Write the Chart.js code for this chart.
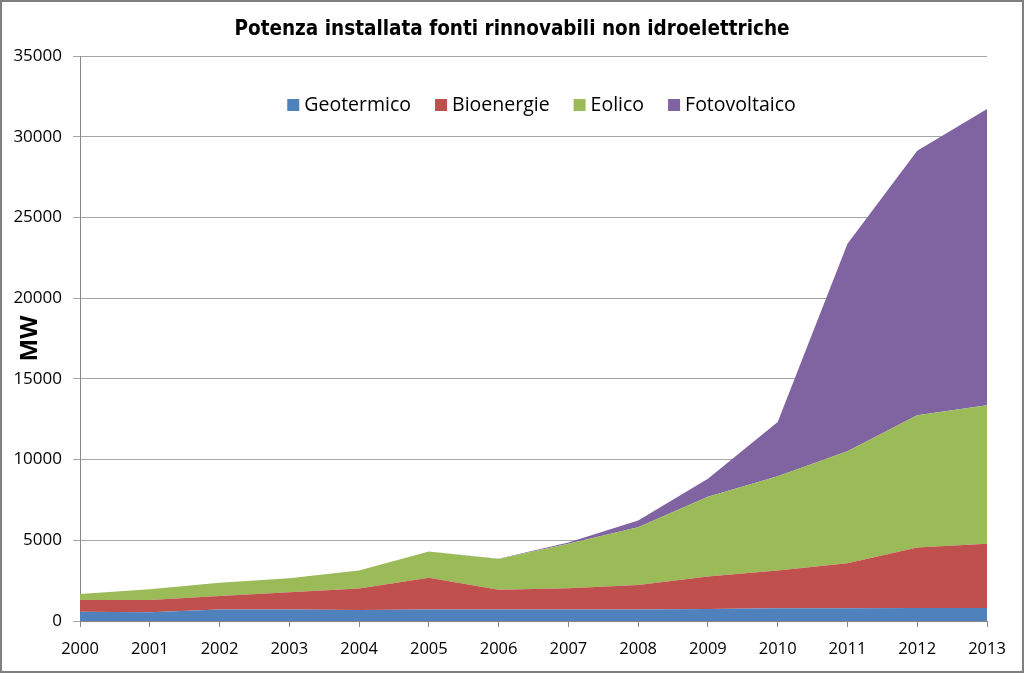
<!DOCTYPE html>
<html>
<head>
<meta charset="utf-8">
<script src="https://cdn.jsdelivr.net/npm/chart.js@4/dist/chart.umd.min.js"></script>
<style>
  html, body { margin: 0; padding: 0; background: #fff; }
  #wrap { width: 1024px; height: 673px; }
</style>
</head>
<body>
<div id="wrap"><canvas id="potenzaChart" width="1024" height="673"></canvas></div>
<script>
// years on the x axis
const years = ['2000', '2001', '2002', '2003', '2004', '2005', '2006',
               '2007', '2008', '2009', '2010', '2011', '2012', '2013'];

// installed power in MW
const geotermico   = [580, 540, 720, 720, 685, 720, 720, 720, 720, 750, 790, 790, 800, 800];
const bioenergie   = [725, 765, 830, 1055, 1325, 1965, 1220, 1305, 1510, 2005, 2335, 2795, 3755, 3985];
const eolico       = [375, 665, 825, 870, 1120, 1615, 1905, 2755, 3585, 4935, 5840, 6935, 8185, 8575];
const fotovoltaico = [0, 0, 0, 0, 0, 0, 5, 80, 410, 1120, 3360, 12845, 16390, 18355];

const yTicks = [0, 5000, 10000, 15000, 20000, 25000, 30000, 35000];

const chartTitle = 'Potenza installata fonti rinnovabili non idroelettriche';
const labelFont = "'Open Sans', 'Liberation Sans', sans-serif";
const titleFont = "'Liberation Sans Narrow', 'DejaVu Sans Condensed', sans-serif";

// grey frame and the title, centred on the whole picture
const framePlugin = {
    id: 'frame',
    afterDraw(chart) {
        const c = chart.ctx;
        c.save();
        c.strokeStyle = '#7f7f7f';
        c.lineWidth = 2;
        c.strokeRect(1, 1, chart.width - 2, chart.height - 2);
        c.fillStyle = '#000';
        c.font = 'bold 20.5px ' + titleFont;
        c.textAlign = 'center';
        c.textBaseline = 'middle';
        c.fillText(chartTitle, chart.width / 2, 30);
        c.restore();
    }
};

// legend in one row inside the plot, like the original
const rowLegend = {
    id: 'rowLegend',
    afterDatasetsDraw(chart) {
        const c = chart.ctx;
        const sets = chart.data.datasets;
        const box = 12, gap = 5, spacing = 24;
        c.save();
        c.font = '19.5px ' + labelFont;
        c.textBaseline = 'middle';
        let total = 0;
        const widths = sets.map(ds => c.measureText(ds.label).width);
        widths.forEach(w => { total += box + gap + w; });
        total += spacing * (sets.length - 1);
        const area = chart.chartArea;
        let x = (area.left + area.right) / 2 + 8 - total / 2;
        const y = 105;
        sets.forEach((ds, i) => {
            c.fillStyle = ds.backgroundColor;
            c.fillRect(x, y - 6, box, 12);
            x += box + gap;
            c.fillStyle = '#000';
            c.fillText(ds.label, x, y);
            x += widths[i] + spacing;
        });
        c.restore();
    }
};

const ctx = document.getElementById('potenzaChart').getContext('2d');
const potenzaChart = new Chart(ctx, {
    type: 'line',
    data: {
        labels: years,
        datasets: [{
            label: 'Geotermico',
            data: geotermico,
            backgroundColor: '#4F81BD',
            borderWidth: 0,
            pointRadius: 0,
            fill: 'origin'
        }, {
            label: 'Bioenergie',
            data: bioenergie,
            backgroundColor: '#C0504D',
            borderWidth: 0,
            pointRadius: 0,
            fill: '-1'
        }, {
            label: 'Eolico',
            data: eolico,
            backgroundColor: '#9BBB59',
            borderWidth: 0,
            pointRadius: 0,
            fill: '-1'
        }, {
            label: 'Fotovoltaico',
            data: fotovoltaico,
            backgroundColor: '#8064A2',
            borderWidth: 0,
            pointRadius: 0,
            fill: '-1'
        }]
    },
    options: {
        responsive: false,
        animation: false,
        layout: {
            padding: { left: 0, right: 37, top: 56, bottom: 0 }
        },
        scales: {
            x: {
                offset: false,
                ticks: {
                    color: '#000',
                    font: { family: labelFont, size: 16.5 },
                    maxRotation: 0,
                    padding: 12
                },
                grid: {
                    display: true,
                    drawOnChartArea: false,
                    drawTicks: true,
                    tickLength: 6,
                    color: '#868686'
                },
                border: { color: '#868686' },
                afterFit(scale) { scale.height = 52; }
            },
            y: {
                stacked: true,
                min: 0,
                max: 35000,
                afterBuildTicks(scale) {
                    scale.ticks = yTicks.map(v => ({ value: v }));
                },
                ticks: {
                    color: '#000',
                    font: { family: labelFont, size: 17 },
                    padding: 11,
                    callback: v => String(v)
                },
                grid: {
                    color: '#a6a6a6',
                    tickLength: 7
                },
                border: { color: '#868686' },
                title: {
                    display: true,
                    text: 'MW',
                    color: '#000',
                    font: { family: labelFont, size: 24, weight: 'bold' },
                    padding: { top: 16, bottom: 0 }
                },
                afterFit(scale) { scale.width = 80; }
            }
        },
        plugins: {
            title: { display: false },
            legend: { display: false },
            tooltip: { enabled: false }
        }
    },
    plugins: [framePlugin, rowLegend]
});
</script>
</body>
</html>
